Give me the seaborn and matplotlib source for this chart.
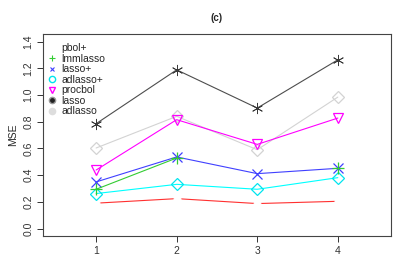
import numpy as np
import pandas as pd
import matplotlib
matplotlib.use('Agg')
import matplotlib.pyplot as plt
import seaborn as sns
from matplotlib.lines import Line2D

sns.set_style('ticks')
plt.rcParams['font.family'] = ['Liberation Sans', 'DejaVu Sans']

# values
x = [1, 2, 3, 4]
pbol_plus = [0.190, 0.224, 0.187, 0.204]
lmmlasso = [0.294, 0.528, np.nan, 0.451]
lasso_plus = [0.349, 0.536, 0.411, 0.451]
adlasso_plus = [0.262, 0.331, 0.294, 0.381]
procbol = [0.438, 0.815, 0.630, 0.827]
lasso = [0.785, 1.188, 0.902, 1.263]
adlasso = [0.603, 0.840, 0.590, 0.984]

fig = plt.figure(figsize=(4.09, 2.79), dpi=100)
ax = fig.add_axes([0.105, 0.154, 0.851, 0.724])

lw = 0.8
# red line, R type="b" with no symbol -> gaps around the points
sns.lineplot(x=x, y=pbol_plus, ax=ax, color='#ff3030', lw=lw, marker='o',
             markersize=5, markerfacecolor='white', markeredgecolor='white', zorder=1)
sns.lineplot(x=x, y=adlasso, ax=ax, color='#d3d3d3', lw=lw, marker='D', markersize=6,
             markerfacecolor='none', markeredgecolor='#d3d3d3', markeredgewidth=0.9)
sns.lineplot(x=x, y=procbol, ax=ax, color='#ff00ff', lw=lw, marker='v', markersize=7,
             markerfacecolor='none', markeredgecolor='#ff00ff', markeredgewidth=0.9)
sns.lineplot(x=x, y=lasso, ax=ax, color='#4d4d4d', lw=lw, marker=(6, 2, 0), markersize=8,
             markeredgecolor='#3a3a3a', markeredgewidth=0.6)
sns.lineplot(x=x, y=adlasso_plus, ax=ax, color='#00ffff', lw=lw, marker='D', markersize=6,
             markerfacecolor='none', markeredgecolor='#00e5ee', markeredgewidth=0.9)
sns.lineplot(x=x, y=lasso_plus, ax=ax, color='#4040ff', lw=lw, marker='x', markersize=7,
             markeredgecolor='#4040ff', markeredgewidth=0.9)
# lmmlasso has a missing value at 3: line 1-2, lone point at 4
ax.plot(x, lmmlasso, color='#33cc33', lw=lw, marker='+', markersize=8,
        markeredgewidth=0.9)

ax.set_xlim(0.34, 4.66)
ax.set_ylim(-0.056, 1.456)
ax.set_xticks([1, 2, 3, 4])
ax.set_yticks(np.arange(0, 1.41, 0.2))
ax.set_yticklabels([f'{v:.1f}' for v in np.arange(0, 1.41, 0.2)], rotation=90, va='center')
ax.tick_params(labelsize=7.5, length=4, width=0.7, colors='#333333', pad=3)
for s in ax.spines.values():
    s.set_visible(True)
    s.set_linewidth(0.8)
    s.set_color('#444444')
ax.set_xlabel('')
ax.set_ylabel('MSE', fontsize=7.5, labelpad=4)
fig.text(0.53, 0.935, '(c)', ha='center', va='center', fontsize=7, fontweight='bold')

handles = [
    Line2D([], [], ls='none', marker=None),
    Line2D([], [], ls='none', marker='+', color='#33cc33', markersize=5, markeredgewidth=0.8),
    Line2D([], [], ls='none', marker='x', color='#4040ff', markersize=3.5, markeredgewidth=0.8),
    Line2D([], [], ls='none', marker='o', markerfacecolor='none', markeredgecolor='#00e5ee', markersize=4.5),
    Line2D([], [], ls='none', marker='v', markerfacecolor='none', markeredgecolor='#ff00ff', markersize=4.5),
    Line2D([], [], ls='none', marker='o', markerfacecolor='#222222', markeredgecolor='#999999', markersize=4.5),
    Line2D([], [], ls='none', marker='o', markerfacecolor='#dddddd', markeredgecolor='#dddddd', markersize=4.5),
]
labels = ['pbol+', 'lmmlasso', 'lasso+', 'adlasso+', 'procbol', 'lasso', 'adlasso']
leg = ax.legend(handles, labels, loc='upper left', frameon=False, fontsize=7.5,
                handlelength=0.6, handletextpad=0.6, labelspacing=0.05,
                borderaxespad=0.0, bbox_to_anchor=(0.005, 0.975))

fig.savefig('out.png', dpi=100)
